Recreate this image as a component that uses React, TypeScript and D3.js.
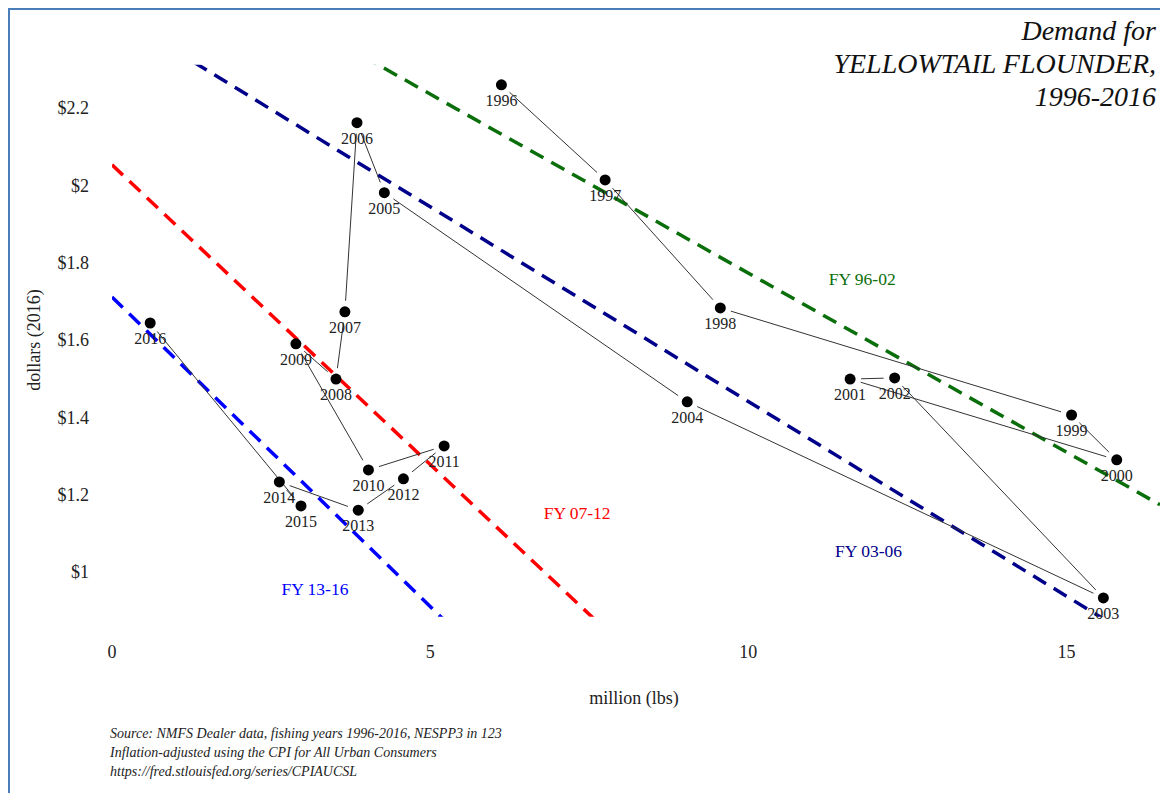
import { line, scaleLinear } from "d3";

const W = 1168;
const H = 793;

// million lbs / dollars (2016)
const years = [1996, 1997, 1998, 1999, 2000, 2001, 2002, 2003, 2004, 2005, 2006, 2007, 2008, 2009, 2010, 2011, 2012, 2013, 2014, 2015, 2016];
const landings = [6.12, 7.75, 9.56, 15.08, 15.79, 11.6, 12.3, 15.58, 9.04, 4.28, 3.85, 3.66, 3.52, 2.89, 4.03, 5.22, 4.58, 3.87, 2.63, 2.97, 0.6];
const prices = [2.26, 2.014, 1.683, 1.406, 1.29, 1.499, 1.502, 0.933, 1.44, 1.981, 2.162, 1.673, 1.499, 1.59, 1.264, 1.326, 1.241, 1.16, 1.233, 1.171, 1.644];

// fitted demand lines: price = intercept + slope * quantity
const fitLabels = ["FY 96-02", "FY 03-06", "FY 07-12", "FY 13-16"];
const fitIntercepts = [2.699, 2.448, 2.053, 1.711];
const fitSlopes = [-0.0926, -0.1007, -0.155, -0.16];
const fitColors = ["#0a6e0a", "#00008b", "#ff0000", "#0000ff"];
const fitLabelX = [11.79, 11.89, 7.31, 3.19];
const fitLabelY = [1.758, 1.054, 1.153, 0.956];

const xTicks = [0, 5, 10, 15];
const yTicks = [1, 1.2, 1.4, 1.6, 1.8, 2, 2.2];

const sourceLines = [
  "Source: NMFS Dealer data, fishing years 1996-2016, NESPP3 in 123",
  "Inflation-adjusted using the CPI for All Urban Consumers",
  "https://fred.stlouisfed.org/series/CPIAUCSL",
];
const titleLines = ["Demand for", "YELLOWTAIL FLOUNDER,", "1996-2016"];

const SERIF = "'Liberation Serif', 'Times New Roman', serif";

export default function App() {
  // svg sits at the 8px body margin
  const x = scaleLinear().domain([0, 16.47]).range([104, 1152]);
  const y = scaleLinear().domain([1, 2.2]).range([564, 100]);
  const xMax = 16.47;
  const yLo = 0.884;
  const yHi = 2.312;

  const pts = years.map((yr, i) => ({ yr, px: x(landings[i]), py: y(prices[i]) }));

  // connecting segments, trimmed at both ends
  const gap = 11;
  const segs = pts.slice(1).map((p, i) => {
    const a = pts[i];
    const dx = p.px - a.px;
    const dy = p.py - a.py;
    const len = Math.hypot(dx, dy);
    const t = Math.min(gap / len, 0.45);
    return {
      x1: a.px + dx * t,
      y1: a.py + dy * t,
      x2: p.px - dx * t,
      y2: p.py - dy * t,
    };
  });

  const txt = { fontFamily: SERIF };

  return (
    <svg width={W - 8} height={H - 8} style={{ display: "block" }}>
      <defs>
        <clipPath id="plotClip">
          <rect x={x(0)} y={y(yHi)} width={x(xMax) - x(0)} height={y(yLo) - y(yHi)} />
        </clipPath>
      </defs>
      <rect x={1} y={1} width={W + 20} height={H + 20} fill="white" stroke="#4a7ebb" strokeWidth={2} />

      {/* dashed demand lines */}
      <g clipPath="url(#plotClip)">
        {fitIntercepts.map((b, i) => {
          const d =
            line<number>()
              .x((q) => x(q))
              .y((q) => y(b + fitSlopes[i] * q))([0, xMax]) ?? "";
          return (
            <path
              key={fitLabels[i]}
              d={d}
              fill="none"
              stroke={fitColors[i]}
              strokeWidth={3.5}
              strokeDasharray="15 9"
            />
          );
        })}
      </g>

      {/* connected path */}
      {segs.map((s, i) => (
        <line key={i} x1={s.x1} y1={s.y1} x2={s.x2} y2={s.y2} stroke="#333" strokeWidth={1} />
      ))}

      {pts.map((p) => (
        <g key={p.yr}>
          <circle cx={p.px} cy={p.py} r={5.5} fill="#000" />
          <text x={p.px} y={p.py + 21} textAnchor="middle" fontSize={16} fill="#222" style={txt}>
            {p.yr}
          </text>
        </g>
      ))}

      {fitLabels.map((t, i) => (
        <text
          key={t}
          x={x(fitLabelX[i])}
          y={y(fitLabelY[i])}
          dy="0.35em"
          textAnchor="middle"
          fontSize={17.5}
          fill={fitColors[i]}
          style={txt}
        >
          {t}
        </text>
      ))}

      {/* axes (labels only) */}
      {yTicks.map((t) => (
        <text key={t} x={81} y={y(t)} dy="0.35em" textAnchor="end" fontSize={18} fill="#222" style={txt}>
          {"$" + t}
        </text>
      ))}
      {xTicks.map((t) => (
        <text key={t} x={x(t)} y={650} textAnchor="middle" fontSize={18} fill="#222" style={txt}>
          {t}
        </text>
      ))}
      <text
        transform={`translate(32, ${y(1.6)}) rotate(-90)`}
        textAnchor="middle"
        fontSize={18}
        fill="#222"
        style={txt}
      >
        dollars (2016)
      </text>
      <text x={626} y={696} textAnchor="middle" fontSize={18} fill="#222" style={txt}>
        million (lbs)
      </text>

      {titleLines.map((t, i) => (
        <text
          key={t}
          x={1148}
          y={32 + i * 33}
          textAnchor="end"
          fontSize={28}
          fontStyle="italic"
          fill="#111"
          style={txt}
        >
          {t}
        </text>
      ))}

      {sourceLines.map((t, i) => (
        <text key={t} x={102} y={730 + i * 19} fontSize={14} fontStyle="italic" fill="#222" style={txt}>
          {t}
        </text>
      ))}
    </svg>
  );
}
